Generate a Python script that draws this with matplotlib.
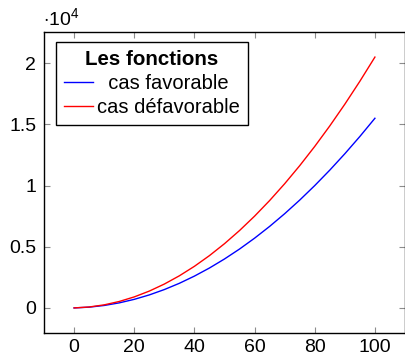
import matplotlib
matplotlib.use("Agg")
import matplotlib.pyplot as plt
from matplotlib.ticker import FixedLocator, FuncFormatter

plt.rcParams['font.family'] = ['Liberation Sans', 'DejaVu Sans']
plt.rcParams['mathtext.fontset'] = 'custom'
plt.rcParams['mathtext.rm'] = 'Liberation Sans'
plt.rcParams['mathtext.it'] = 'Liberation Sans:italic'
plt.rcParams['mathtext.bf'] = 'Liberation Sans:bold'

# Data
x_values = [0, 5, 10, 15, 20, 25, 30, 35, 40, 45, 50, 55, 60, 65, 70, 75, 80, 85, 90, 95, 100]
favorable = [0, 62, 200, 412, 700, 1062, 1500, 2012, 2600, 3262, 4000, 4812, 5700,
             6662, 7700, 8812, 10000, 11262, 12600, 14012, 15500]
defavorable = [0, 75, 250, 525, 900, 1375, 1950, 2625, 3400, 4275, 5250, 6325, 7500,
               8775, 10150, 11625, 13200, 14875, 16650, 18525, 20500]
x_ticks = [0, 20, 40, 60, 80, 100]
y_ticks = [0, 5000, 10000, 15000, 20000]
y_tick_labels = ['0', '0.5', '1', '1.5', '2']
legend_title = 'Les fonctions'
labels = ['  cas favorable', 'cas défavorable']

fig = plt.figure(figsize=(4.06, 3.57), dpi=100)
W, H = 406, 357
ax = fig.add_axes([44 / W, 1 - 333 / H, (405 - 44) / W, (333 - 32) / H])

ax.plot(x_values, favorable, color=(0, 0, 1), lw=1.0, label=labels[0])
ax.plot(x_values, defavorable, color=(1, 0, 0), lw=1.0, label=labels[1])

ax.set_xlim(-10, 110)
ax.set_ylim(-2050, 22550)
ax.xaxis.set_major_locator(FixedLocator(x_ticks))
ax.yaxis.set_major_locator(FixedLocator(y_ticks))
ax.yaxis.set_major_formatter(FuncFormatter(lambda v, p: y_tick_labels[y_ticks.index(int(round(v)))] if int(round(v)) in y_ticks else ''))

ax.tick_params(axis='both', which='major', direction='in', length=4.5, width=0.8,
               color='#8c8c8c', labelsize=14, top=True, right=True)
ax.tick_params(axis='y', pad=5.5)
ax.tick_params(axis='x', pad=4)
for s in ax.spines.values():
    s.set_color('black')
    s.set_linewidth(1.0)

fig.text(43 / W, 1 - 25 / H, r'$\cdot10^{4}$', fontsize=14, ha='left', va='baseline')

leg = ax.legend(title=legend_title, loc='upper left',
                bbox_to_anchor=(12 / 361, 1 - 10 / 301), borderaxespad=0,
                fontsize=14.5, title_fontproperties={'weight': 'bold', 'size': 14.8},
                fancybox=False, shadow=False, framealpha=1, edgecolor='black',
                borderpad=0.4, labelspacing=0.25, handlelength=1.45, handletextpad=0.2)
leg.get_frame().set_linewidth(1.0)

fig.savefig('out.png', dpi=100)
